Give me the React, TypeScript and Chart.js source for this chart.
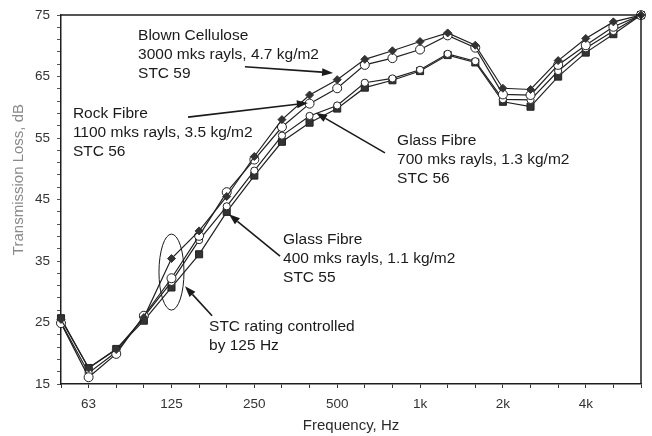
import React, { useEffect, useRef } from 'react';
import { Chart, registerables } from 'chart.js';

Chart.register(...registerables);

// One-third octave band centre frequencies (x categories)
const bands = ['50', '63', '80', '100', '125', '160', '200', '250', '315', '400', '500', '630', '800', '1k', '1.25k', '1.6k', '2k', '2.5k', '3.15k', '4k', '5k', '6.3k'];
// Octave labels shown on the axis
const octaveLabels = ['63', '125', '250', '500', '1k', '2k', '4k'];

// Transmission loss, dB
const blownCellulose = [25.5, 17.6, 20.6, 25.8, 35.4, 39.9, 45.5, 52.0, 58.0, 62.0, 64.5, 67.8, 69.2, 70.7, 72.1, 70.1, 63.1, 62.9, 67.6, 71.2, 73.9, 75];
const rockFibre = [24.9, 16.1, 19.9, 26.1, 32.2, 39.1, 46.2, 51.5, 56.8, 60.6, 63.1, 66.9, 68.0, 69.4, 71.7, 69.7, 62.1, 62.0, 66.9, 70.1, 73.1, 75];
const glassFibre700 = [25.0, 16.8, 20.2, 25.9, 31.6, 38.4, 43.9, 49.7, 55.4, 58.6, 60.3, 64.0, 64.7, 66.1, 68.7, 67.5, 61.3, 61.2, 65.9, 69.6, 72.4, 75];
const glassFibre400 = [25.7, 17.6, 20.7, 25.3, 30.7, 36.1, 43.0, 48.9, 54.4, 57.5, 59.8, 63.2, 64.4, 65.9, 68.5, 67.3, 60.9, 60.1, 65.0, 68.9, 71.9, 75];

// Y axis range and label steps
const yMin = 15;
const yMax = 75;
const yLabelStep = 10;
const yMinorStep = 2;

// Annotation texts
const celluloseText = ['Blown Cellulose', '3000 mks rayls, 4.7 kg/m2', 'STC 59'];
const rockText = ['Rock Fibre', '1100 mks rayls, 3.5 kg/m2', 'STC 56'];
const glass700Text = ['Glass Fibre', '700 mks rayls, 1.3 kg/m2', 'STC 56'];
const glass400Text = ['Glass Fibre', '400 mks rayls, 1.1 kg/m2', 'STC 55'];
const stcText = ['STC rating controlled', 'by 125 Hz'];

const FONT = '"Liberation Sans", Arial, sans-serif';

// Annotation placement in data space (band index, dB)
const annotations = [
  { lines: celluloseText, at: [2.79, 71.6], arrow: [[6.66, 66.6], [9.85, 65.6]] },
  { lines: rockText, at: [0.43, 58.9], arrow: [[4.6, 58.4], [8.94, 60.7]] },
  { lines: glass700Text, at: [12.17, 54.5], arrow: [[11.73, 52.6], [9.23, 59.1]] },
  { lines: glass400Text, at: [8.04, 38.4], arrow: [[7.93, 35.8], [6.08, 42.6]] },
  { lines: stcText, at: [5.36, 24.3], arrow: [[5.47, 26.1], [4.49, 30.9]] },
];
const ellipseAt = [4, 33.2];

function drawArrow(ctx: CanvasRenderingContext2D, x1: number, y1: number, x2: number, y2: number) {
  const ang = Math.atan2(y2 - y1, x2 - x1);
  const len = 11;
  const half = 4;
  const bx = x2 - len * Math.cos(ang);
  const by = y2 - len * Math.sin(ang);
  ctx.beginPath();
  ctx.moveTo(x1, y1);
  ctx.lineTo(bx, by);
  ctx.stroke();
  ctx.beginPath();
  ctx.moveTo(x2, y2);
  ctx.lineTo(bx + half * Math.sin(ang), by - half * Math.cos(ang));
  ctx.lineTo(bx - half * Math.sin(ang), by + half * Math.cos(ang));
  ctx.closePath();
  ctx.fill();
}

const decorPlugin = {
  id: 'decor',
  afterDatasetsDraw(chart: any) {
    const { ctx, chartArea, scales } = chart;
    const xs = scales.x;
    const ys = scales.y;
    const px = (v: number) => xs.getPixelForValue(v);
    const py = (v: number) => ys.getPixelForValue(v);
    ctx.save();
    // frame (top and right)
    ctx.strokeStyle = '#1e1e1e';
    ctx.lineWidth = 1.5;
    ctx.beginPath();
    ctx.moveTo(chartArea.left, chartArea.top);
    ctx.lineTo(chartArea.right, chartArea.top);
    ctx.lineTo(chartArea.right, chartArea.bottom);
    ctx.stroke();

    // annotations
    ctx.font = `15.5px ${FONT}`;
    ctx.fillStyle = '#1a1a1a';
    ctx.textBaseline = 'middle';
    ctx.textAlign = 'left';
    const lh = 19;
    annotations.forEach((a) => {
      const x = px(a.at[0]);
      const y = py(a.at[1]);
      a.lines.forEach((t, i) => ctx.fillText(t, x, y + i * lh));
      ctx.strokeStyle = '#1a1a1a';
      ctx.fillStyle = '#1a1a1a';
      ctx.lineWidth = 1.6;
      drawArrow(ctx, px(a.arrow[0][0]), py(a.arrow[0][1]), px(a.arrow[1][0]), py(a.arrow[1][1]));
    });

    // ellipse around 125 Hz
    ctx.lineWidth = 1;
    ctx.beginPath();
    ctx.ellipse(px(ellipseAt[0]), py(ellipseAt[1]), 12.5, 38, 0, 0, Math.PI * 2);
    ctx.stroke();

    // axis titles
    ctx.fillStyle = '#8a8a8a';
    ctx.font = `15px ${FONT}`;
    ctx.textAlign = 'center';
    ctx.save();
    ctx.translate(19, (chartArea.top + chartArea.bottom) / 2 - 20);
    ctx.rotate(-Math.PI / 2);
    ctx.fillText('Transmission Loss, dB', 0, 0);
    ctx.restore();
    ctx.fillStyle = '#2a2a2a';
    ctx.fillText('Frequency, Hz', (chartArea.left + chartArea.right) / 2, 426);
    ctx.restore();
  },
};

export default function App() {
  const ref = useRef<HTMLCanvasElement>(null);
  useEffect(() => {
    if (!ref.current) return;
    const lineColor = '#202020';
    const chart = new Chart(ref.current, {
      type: 'line',
      data: {
        labels: bands,
        datasets: [
          {
            label: 'Blown Cellulose',
            data: blownCellulose,
            borderColor: lineColor,
            borderWidth: 1.2,
            pointStyle: 'rectRot',
            pointRadius: 4,
            pointBackgroundColor: '#333',
            pointBorderColor: '#333',
            pointBorderWidth: 1,
            clip: false,
          },
          {
            label: 'Rock Fibre',
            data: rockFibre,
            borderColor: lineColor,
            borderWidth: 1.2,
            pointStyle: 'circle',
            pointRadius: 4.5,
            pointBackgroundColor: '#fff',
            pointBorderColor: '#222',
            pointBorderWidth: 1,
            clip: false,
          },
          {
            label: 'Glass Fibre 700',
            data: glassFibre700,
            borderColor: lineColor,
            borderWidth: 1.2,
            pointStyle: 'circle',
            pointRadius: 3.6,
            pointBackgroundColor: '#fff',
            pointBorderColor: '#222',
            pointBorderWidth: 1,
            clip: false,
          },
          {
            label: 'Glass Fibre 400',
            data: glassFibre400,
            borderColor: lineColor,
            borderWidth: 1.2,
            pointStyle: 'rect',
            pointRadius: 5,
            pointBackgroundColor: '#333',
            pointBorderColor: '#222',
            pointBorderWidth: 1,
            clip: false,
          },
        ],
      },
      options: {
        responsive: false,
        animation: false,
        devicePixelRatio: 1,
        layout: { padding: { top: 15, right: 11, left: 0, bottom: 0 } },
        plugins: { legend: { display: false }, tooltip: { enabled: false } },
        elements: { line: { tension: 0 } },
        scales: {
          x: {
            type: 'category',
            offset: false,
            grid: { drawOnChartArea: false, drawTicks: true, tickLength: 4, color: '#333' },
            border: { display: true, color: '#1e1e1e', width: 1.5 },
            ticks: {
              autoSkip: false,
              maxRotation: 0,
              minRotation: 0,
              padding: 8,
              color: '#333',
              font: { family: FONT, size: 13.5 },
              callback: (_v: any, i: number) => (octaveLabels.includes(bands[i]) ? bands[i] : ''),
            },
            afterFit: (s: any) => { s.height = 52; },
          },
          y: {
            type: 'linear',
            min: yMin,
            max: yMax,
            grid: { drawOnChartArea: false, drawTicks: true, tickLength: 4, color: '#555' },
            border: { display: true, color: '#1e1e1e', width: 1.5 },
            ticks: {
              stepSize: yMinorStep,
              maxTicksLimit: 100,
              autoSkip: false,
              padding: 7,
              color: '#333',
              font: { family: FONT, size: 13.5 },
              callback: (v: any) => {
                const n = Math.round(Number(v));
                return (n - yMin) % yLabelStep === 0 ? String(n) : '';
              },
            },
            afterFit: (s: any) => { s.width = 61; },
          },
        },
      },
      plugins: [decorPlugin],
    });
    return () => chart.destroy();
  }, []);
  return (
    <div style={{ position: 'fixed', left: 0, top: 0, width: 652, height: 436, background: '#fff' }}>
      <canvas ref={ref} width={652} height={436} style={{ width: 652, height: 436, display: 'block' }} />
    </div>
  );
}
